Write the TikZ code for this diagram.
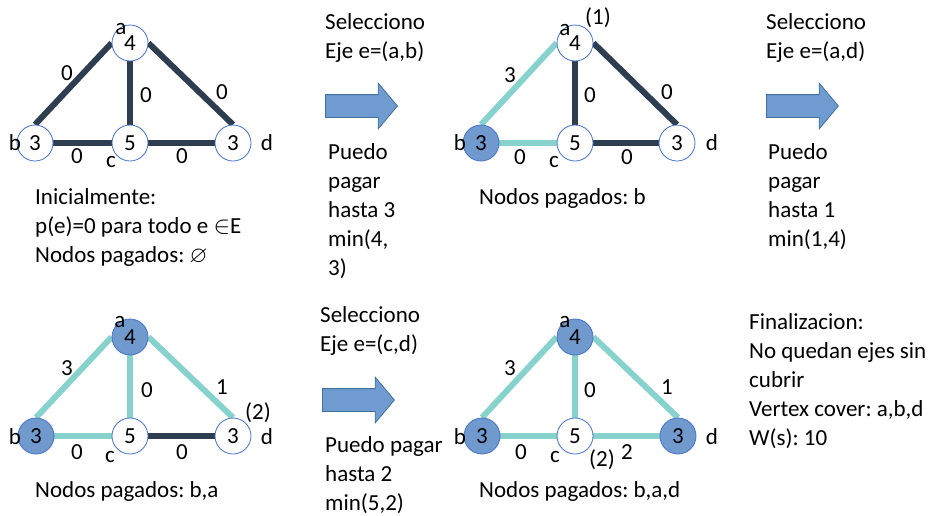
\documentclass[tikz,border=0pt]{standalone}
\usepackage{amssymb}
\usepackage{fontspec}
\setmainfont{Carlito}
\usetikzlibrary{shapes.arrows,backgrounds}

\definecolor{ejoscuro}{HTML}{2E3E50}
\definecolor{ejpagado}{HTML}{88D2CE}
\definecolor{nodoborde}{HTML}{4472C4}
\definecolor{nodorelleno}{HTML}{7099CE}
\definecolor{flecharelleno}{HTML}{6F9BD1}
\definecolor{flechaborde}{HTML}{41719C}
\frenchspacing

\begin{document}
\begin{tikzpicture}[
    x=1pt, y=-1pt,
    font=\fontsize{23}{29}\selectfont,
    vtx/.style={circle, draw=nodoborde, fill=white, line width=0.8pt, minimum size=36pt, inner sep=0pt},
    pagado/.style={vtx, fill=nodorelleno},
    ej/.style={draw=ejoscuro, line width=6pt},
    ejpag/.style={draw=ejpagado, line width=6pt},
    lbl/.style={inner sep=0pt},
    txt/.style={align=left, anchor=north west, inner sep=0pt},
    paso/.style={single arrow, draw=flechaborde, fill=flecharelleno, line width=0.8pt,
        anchor=tail, minimum height=72pt, inner sep=11pt, single arrow head extend=11.5pt,
        single arrow tip angle=100}
]
\useasboundingbox (0,0) rectangle (935,515);

% Grafo inicial
\node[vtx] (a1) at (130,43) {4};
\node[vtx] (b1) at (35,143) {3};
\node[vtx] (c1) at (130,143) {5};
\node[vtx] (d1) at (233,143) {3};
\begin{pgfonlayer}{background}
\draw[ej] (a1.west) -- (b1.north);
\draw[ej] (a1.south) -- (c1.north);
\draw[ej] (a1.east) -- (d1.north);
\draw[ej] (b1.east) -- (c1.west);
\draw[ej] (c1.east) -- (d1.west);
\end{pgfonlayer}
\node[lbl] (na1) at (121,29) {a};
\node[lbl] (nb1) at (15,143) {b};
\node[lbl] (nc1) at (111,162) {c};
\node[lbl] (nd1) at (267,143) {d};
\node[lbl] (pab1) at (67,73) {0};
\node[lbl] (pac1) at (146,95) {0};
\node[lbl] (pad1) at (222,92) {0};
\node[lbl] (pbc1) at (77,156) {0};
\node[lbl] (pcd1) at (182,156) {0};
\node[txt] (ini) at (35,188) {Inicialmente:\\p(e)=0 para todo e $\in$E\\Nodos pagados: $\varnothing$};

% Primer paso: eje (a,b)
\node[txt] (sel1) at (325,13) {Selecciono\\Eje e=(a,b)};
\node[paso] (fl1) at (325,106) {};
\node[txt] (pag1) at (328,143) {Puedo\\pagar\\hasta 3\\min(4,\\3)};

% Grafo tras el primer paso
\node[vtx] (a2) at (575,43) {4};
\node[pagado] (b2) at (481,143) {3};
\node[vtx] (c2) at (575,143) {5};
\node[vtx] (d2) at (677,143) {3};
\begin{pgfonlayer}{background}
\draw[ejpag] (a2.west) -- (b2.north);
\draw[ej] (a2.south) -- (c2.north);
\draw[ej] (a2.east) -- (d2.north);
\draw[ejpag] (b2.east) -- (c2.west);
\draw[ej] (c2.east) -- (d2.west);
\end{pgfonlayer}
\node[lbl] (na2) at (565,30) {a};
\node[lbl] (nb2) at (460,143) {b};
\node[lbl] (nc2) at (554,162) {c};
\node[lbl] (nd2) at (712,143) {d};
\node[lbl] (uno) at (598,18) {(1)};
\node[lbl] (pab2) at (510,75) {3};
\node[lbl] (pac2) at (590,95) {0};
\node[lbl] (pad2) at (667,92) {0};
\node[lbl] (pbc2) at (520,157) {0};
\node[lbl] (pcd2) at (627,157) {0};
\node[txt] (pagados2) at (479,188) {Nodos pagados: b};

% Segundo paso: eje (a,d)
\node[txt] (sel2) at (766,13) {Selecciono\\Eje e=(a,d)};
\node[paso] (fl2) at (766,106) {};
\node[txt] (pag2) at (768,143) {Puedo\\pagar\\hasta 1\\min(1,4)};

% Grafo tras el segundo paso
\node[pagado] (a3) at (130,337) {4};
\node[pagado] (b3) at (36,436) {3};
\node[vtx] (c3) at (130,436) {5};
\node[vtx] (d3) at (233,436) {3};
\begin{pgfonlayer}{background}
\draw[ejpag] (a3.west) -- (b3.north);
\draw[ejpag] (a3.south) -- (c3.north);
\draw[ejpag] (a3.east) -- (d3.north);
\draw[ejpag] (b3.east) -- (c3.west);
\draw[ej] (c3.east) -- (d3.west);
\end{pgfonlayer}
\node[lbl] (na3) at (120,322) {a};
\node[lbl] (nb3) at (15,437) {b};
\node[lbl] (nc3) at (110,457) {c};
\node[lbl] (nd3) at (267,437) {d};
\node[lbl] (dos3) at (258,413) {(2)};
\node[lbl] (pab3) at (67,368) {3};
\node[lbl] (pac3) at (147,390) {0};
\node[lbl] (pad3) at (222,387) {1};
\node[lbl] (pbc3) at (77,452) {0};
\node[lbl] (pcd3) at (182,452) {0};
\node[txt] (pagados3) at (35,481) {Nodos pagados: b,a};

% Tercer paso: eje (c,d)
\node[txt] (sel3) at (320,306) {Selecciono\\Eje e=(c,d)};
\node[paso] (fl3) at (322,400) {};
\node[txt] (pag3) at (325,436) {Puedo pagar\\hasta 2\\min(5,2)};

% Grafo final
\node[pagado] (a4) at (575,337) {4};
\node[pagado] (b4) at (482,436) {3};
\node[vtx] (c4) at (575,436) {5};
\node[pagado] (d4) at (678,436) {3};
\begin{pgfonlayer}{background}
\draw[ejpag] (a4.west) -- (b4.north);
\draw[ejpag] (a4.south) -- (c4.north);
\draw[ejpag] (a4.east) -- (d4.north);
\draw[ejpag] (b4.east) -- (c4.west);
\draw[ejpag] (c4.east) -- (d4.west);
\end{pgfonlayer}
\node[lbl] (na4) at (565,322) {a};
\node[lbl] (nb4) at (460,437) {b};
\node[lbl] (nc4) at (555,457) {c};
\node[lbl] (nd4) at (712,437) {d};
\node[lbl] (dos4) at (602,460) {(2)};
\node[lbl] (pab4) at (510,368) {3};
\node[lbl] (pac4) at (590,390) {0};
\node[lbl] (pad4) at (667,387) {1};
\node[lbl] (pbc4) at (521,452) {0};
\node[lbl] (pcd4) at (627,452) {2};
\node[txt] (pagados4) at (479,481) {Nodos pagados: b,a,d};

% Resultado
\node[txt] (fin) at (749,313) {Finalizacion:\\No quedan ejes sin\\cubrir\\Vertex cover: a,b,d\\W(s): 10};
\end{tikzpicture}
\end{document}
